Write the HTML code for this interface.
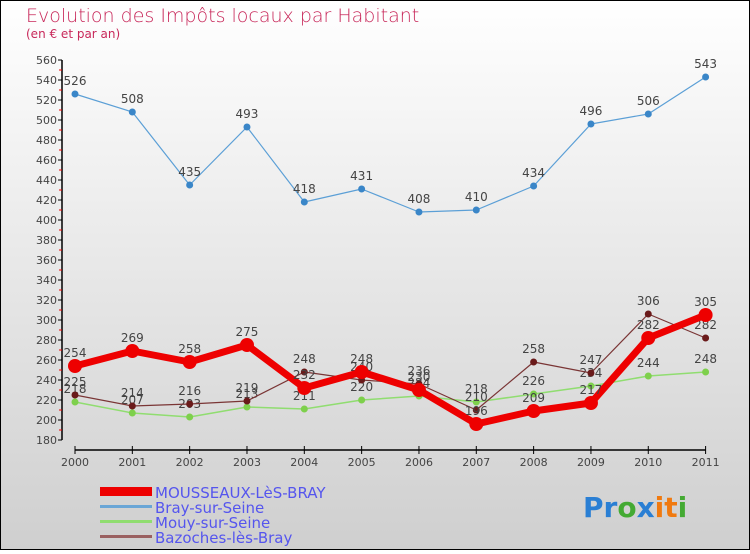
<!DOCTYPE html>
<html><head><meta charset="utf-8"><style>
body{margin:0}
#c{width:750px;height:550px;position:relative;font-family:"DejaVu Sans","Liberation Sans",sans-serif}
</style></head><body>
<div id="c">
<svg id="s" width="750" height="550" xmlns="http://www.w3.org/2000/svg">
<defs><linearGradient id="bg" x1="0" y1="0" x2="0" y2="1"><stop offset="0" stop-color="#ffffff"/><stop offset="1" stop-color="#cfcfcf"/></linearGradient></defs>
<rect x="0.5" y="0.5" width="749" height="549" fill="url(#bg)" stroke="#000"/>
<text x="26" y="22" font-size="19" fill="#c8285a" font-weight="200">Evolution des Impôts locaux par Habitant</text>
<text x="26" y="38" font-size="12" fill="#c8285a">(en € et par an)</text>
<g id="axes"></g><g id="series"></g>
<g>
<rect x="100" y="487" width="52" height="9" fill="#e00"/>
<text x="155" y="498" font-size="15" fill="#5555ee">MOUSSEAUX-LèS-BRAY</text>
<rect x="100" y="505" width="52" height="3" fill="#6aa6d6"/>
<text x="155" y="513" font-size="15" fill="#5555ee">Bray-sur-Seine</text>
<rect x="100" y="520" width="52" height="3" fill="#90dd70"/>
<text x="155" y="528" font-size="15" fill="#5555ee">Mouy-sur-Seine</text>
<rect x="100" y="535" width="52" height="3" fill="#9a6060"/>
<text x="155" y="543" font-size="15" fill="#5555ee">Bazoches-lès-Bray</text>
</g>
<text x="583" y="517" font-size="28" font-weight="bold"><tspan fill="#2a7fd4">Pr</tspan><tspan fill="#44aa33">o</tspan><tspan fill="#2a7fd4">x</tspan><tspan fill="#f07a10">it</tspan><tspan fill="#44aa33">i</tspan></text>
</svg></div>
<script>
const years=["2000","2001","2002","2003","2004","2005","2006","2007","2008","2009","2010","2011"];
const yTicks=[180,200,220,240,260,280,300,320,340,360,380,400,420,440,460,480,500,520,540,560];
const mousseaux=[254,269,258,275,232,248,230,196,209,217,282,305];
const bray=[526,508,435,493,418,431,408,410,434,496,506,543];
const mouy=[218,207,203,213,211,220,224,218,226,234,244,248];
const bazoches=[225,214,216,219,248,240,236,210,258,247,306,282];
const NS="http://www.w3.org/2000/svg";
function X(i){return 75+i*(630.6/11);}
function Y(v){return 440-(v-180)*(380/380);}
function mk(t,a,p){const e=document.createElementNS(NS,t);for(const k in a)e.setAttribute(k,a[k]);p.appendChild(e);return e;}
const ax=document.getElementById('axes');
let l=mk('line',{x1:62,y1:Y(560),x2:62,y2:Y(180),stroke:'#000','stroke-width':1.5},ax);


yTicks.forEach((v,i)=>{
 const t=mk('line',{x1:58,y1:Y(v),x2:62,y2:Y(v),stroke:'#000'},ax);
 
 
 if(i<yTicks.length-1){const m=mk('line',{x1:59,y1:Y(v+10),x2:62,y2:Y(v+10),stroke:'#e00'},ax);
 
 }
 const tx=mk('text',{x:57,y:Y(v)+4,'text-anchor':'end','font-size':11,fill:'#444'},ax);tx.textContent=v;
 
 
});
l=mk('line',{x1:X(0),y1:450,x2:X(11),y2:450,stroke:'#000','stroke-width':1.5},ax);


years.forEach((y,i)=>{
 const t=mk('line',{x1:X(i),y1:446,x2:X(i),y2:454,stroke:'#000'},ax);
 
 
 const tx=mk('text',{x:X(i),y:466,'text-anchor':'middle','font-size':11,fill:'#444'},ax);tx.textContent=y;
 
 
});
const sg=document.getElementById('series');
function series(name,d,col,w,r,dot){
 const g=mk('g',{},sg);
 
 
 const p=mk('polyline',{points:d.map((v,i)=>X(i)+','+Y(v)).join(' '),fill:'none',stroke:col,'stroke-width':w,'stroke-linejoin':'round'},g);
 
 
 d.forEach((v,i)=>{
  const c=mk('circle',{cx:X(i),cy:Y(v),r:r,fill:dot},g);
  
  
  const t=mk('text',{x:X(i),y:Y(v)-9,'text-anchor':'middle','font-size':12,fill:'#444'},g);t.textContent=v;
  
  
 });
}
series('bray',bray,'#5b9fd6',1.2,3.5,'#3a86c8');
series('mouy',mouy,'#90dd70',1.5,3.5,'#7ed04c');
series('bazoches',bazoches,'#7a3535',1.2,3.5,'#6a1a1a');
series('mousseaux',mousseaux,'#ee0000',7,7,'#ee0000');
</script>
</body></html>
